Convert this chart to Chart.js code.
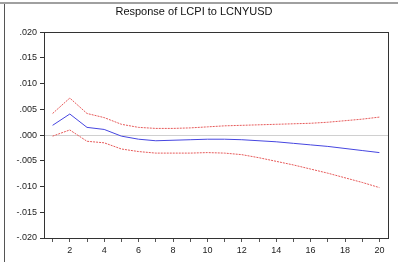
<!DOCTYPE html>
<html lang="en">
<head>
  <meta charset="UTF-8" />
  <title>Response of LCPI to LCNYUSD</title>
  <script src="https://cdn.jsdelivr.net/npm/chart.js"></script>
  <style>
    html, body { margin: 0; padding: 0; background: #fff; }
    #wrap { width: 398px; height: 262px; position: relative; }
  </style>
</head>
<body>
  <div id="wrap"><canvas id="irf"></canvas></div>

  <script>
    // periods 1..20
    const periods = [1, 2, 3, 4, 5, 6, 7, 8, 9, 10, 11, 12, 13, 14, 15, 16, 17, 18, 19, 20];

    // impulse response of LCPI to a LCNYUSD shock
    const response = [0.0019, 0.0041, 0.0015, 0.0011, -0.0002, -0.0008, -0.0011, -0.0010, -0.0009, -0.0008,
                      -0.0008, -0.0009, -0.0011, -0.0013, -0.0016, -0.0019, -0.0022, -0.0026, -0.0030, -0.0034];
    // +/- 2 S.E. bands
    const upperBand = [0.0042, 0.0072, 0.0042, 0.0034, 0.0021, 0.0015, 0.0013, 0.0013, 0.0014, 0.0016,
                       0.0018, 0.0019, 0.0020, 0.0021, 0.0022, 0.0023, 0.0025, 0.0028, 0.0031, 0.0035];
    const lowerBand = [-0.0002, 0.0010, -0.0012, -0.0015, -0.0027, -0.0032, -0.0035, -0.0035, -0.0035, -0.0034,
                       -0.0035, -0.0038, -0.0044, -0.0051, -0.0058, -0.0066, -0.0074, -0.0083, -0.0092, -0.0102];

    const yTicks = [-0.02, -0.015, -0.01, -0.005, 0, 0.005, 0.01, 0.015, 0.02];

    function toXY(vals) {
      return vals.map((v, i) => ({ x: periods[i], y: v }));
    }

    function fmt(v) {
      const s = Math.abs(v).toFixed(3).replace(/^0/, "");
      return v < 0 ? "-" + s : s;
    }

    // frame round the plot area and the outer window edges
    const framePlugin = {
      id: "frame",
      beforeDraw(chart) {
        const ctx = chart.ctx;
        ctx.save();
        ctx.strokeStyle = "#a0a0a0";
        ctx.lineWidth = 2;
        ctx.beginPath();
        ctx.moveTo(0, 3);
        ctx.lineTo(chart.width, 3);
        ctx.stroke();
        ctx.strokeStyle = "#555";
        ctx.lineWidth = 1;
        ctx.beginPath();
        ctx.moveTo(4.5, 4);
        ctx.lineTo(4.5, chart.height);
        ctx.stroke();
        ctx.restore();
      },
      afterDraw(chart) {
        const a = chart.chartArea;
        const ctx = chart.ctx;
        ctx.save();
        ctx.strokeStyle = "#333";
        ctx.lineWidth = 1;
        ctx.strokeRect(Math.round(a.left) + 0.5, Math.round(a.top) + 0.5,
                       Math.round(a.right - a.left), Math.round(a.bottom - a.top));
        ctx.restore();
      }
    };

    new Chart(document.getElementById("irf"), {
      type: "line",
      data: {
        datasets: [
          { data: toXY(upperBand), borderColor: "#e65a5a", borderWidth: 1, borderDash: [2, 1], pointRadius: 0, tension: 0 },
          { data: toXY(lowerBand), borderColor: "#e65a5a", borderWidth: 1, borderDash: [2, 1], pointRadius: 0, tension: 0 },
          { data: toXY(response), borderColor: "#4646e0", borderWidth: 1, pointRadius: 0, tension: 0 }
        ]
      },
      options: {
        responsive: true,
        maintainAspectRatio: false,
        animation: false,
        layout: { padding: { left: 0, right: 10, top: 0, bottom: 0 } },
        plugins: {
          legend: { display: false },
          tooltip: { enabled: false },
          title: {
            display: true,
            text: "Response of LCPI to LCNYUSD",
            color: "#111",
            font: { family: "Arial, 'Liberation Sans', sans-serif", size: 11, weight: "normal" },
            padding: { top: 5, bottom: 14 }
          }
        },
        scales: {
          x: {
            type: "linear",
            min: 0.5,
            max: 20.5,
            afterBuildTicks: s => { s.ticks = periods.map(p => ({ value: p })); },
            ticks: {
              autoSkip: false,
              maxRotation: 0,
              color: "#222",
              font: { family: "Arial, 'Liberation Sans', sans-serif", size: 9 },
              padding: 3,
              callback: v => (v % 2 === 0 ? String(v) : "")
            },
            grid: { drawOnChartArea: false, tickLength: 4, color: "#555" },
            border: { display: false },
            afterFit: s => { s.height = 24; }
          },
          y: {
            min: -0.02,
            max: 0.02,
            afterBuildTicks: s => { s.ticks = yTicks.map(v => ({ value: v })); },
            ticks: {
              color: "#222",
              font: { family: "Arial, 'Liberation Sans', sans-serif", size: 9 },
              padding: 3,
              callback: v => fmt(v)
            },
            grid: {
              drawOnChartArea: true,
              tickLength: 4,
              color: c => (c.tick && c.tick.value === 0 ? "#d0d0d0" : "rgba(0,0,0,0)"),
              tickColor: "#333"
            },
            border: { display: false },
            afterFit: s => { s.width = 44; }
          }
        }
      },
      plugins: [framePlugin]
    });
  </script>
</body>
</html>
